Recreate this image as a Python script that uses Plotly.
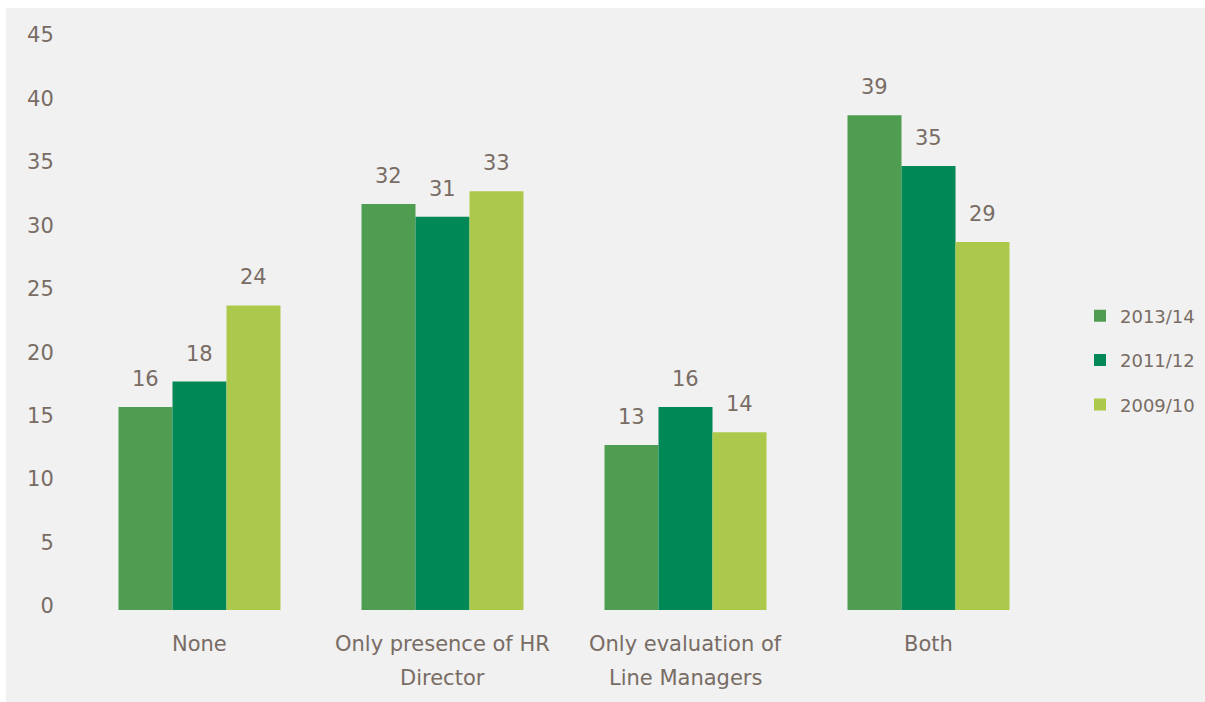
import plotly.graph_objects as go

categories = ["None", "Only presence of HR Director", "Only evaluation of Line Managers", "Both"]
category_lines = [["None"], ["Only presence of HR", "Director"], ["Only evaluation of", "Line Managers"], ["Both"]]
series_names = ["2013/14", "2011/12", "2009/10"]
values_2013 = [16, 32, 13, 39]
values_2011 = [18, 31, 16, 35]
values_2009 = [24, 33, 14, 29]
series_values = [values_2013, values_2011, values_2009]
colors = ["#4f9d50", "#008856", "#adc94b"]
y_ticks = [0, 5, 10, 15, 20, 25, 30, 35, 40, 45]

TXT = "#786c64"
FONT = "DejaVu Sans"
FS = 21

ML, MR, MT, MB = 78, 155, 39, 92
W, H = 1205, 702
plot_w = W - ML - MR
plot_h = H - MT - MB
bar_px = plot_w / len(categories) * (2 / 3) / 3

fig = go.Figure()
for i, (name, vals, col) in enumerate(zip(series_names, series_values, colors)):
    fig.add_trace(go.Bar(
        x=categories, y=vals, name=name, marker_color=col,
        marker_line_width=0, legendgroup=name,
    ))
    for c, v in zip(categories, vals):
        fig.add_annotation(
            x=c, y=v, xref="x", yref="y", text=str(v), showarrow=False,
            xshift=(i - 1) * bar_px, yshift=28,
            font=dict(family=FONT, size=FS, color=TXT),
        )

for c, lines in zip(categories, category_lines):
    for j, line in enumerate(lines):
        fig.add_annotation(
            x=c, y=0, xref="x", yref="y", text=line, showarrow=False,
            yshift=-(34 + 34 * j), font=dict(family=FONT, size=FS, color=TXT),
        )

# white strip at top/left outside the grey panel
fig.add_shape(type="rect", xref="paper", yref="paper",
              x0=-ML / plot_w, x1=(W - ML) / plot_w,
              y0=1 + (MT - 8) / plot_h, y1=1 + MT / plot_h,
              fillcolor="white", line_width=0, layer="below")
fig.add_shape(type="rect", xref="paper", yref="paper",
              x0=-ML / plot_w, x1=-(ML - 6) / plot_w,
              y0=-MB / plot_h, y1=1 + MT / plot_h,
              fillcolor="white", line_width=0, layer="below")

fig.update_layout(
    width=W, height=H,
    margin=dict(l=ML, r=MR, t=MT, b=MB, autoexpand=False),
    paper_bgcolor="#f1f1f1", plot_bgcolor="#f1f1f1",
    barmode="group", bargap=1 / 3, bargroupgap=0,
    font=dict(family=FONT, size=FS, color=TXT),
    showlegend=True,
    legend=dict(x=(1080 - ML) / plot_w, y=0.437, xanchor="left", yanchor="middle",
                font=dict(family=FONT, size=18, color=TXT),
                tracegroupgap=18, itemwidth=30, bgcolor="rgba(0,0,0,0)"),
    xaxis=dict(showticklabels=False, showgrid=False, zeroline=False, showline=False,
               ticks=""),
    yaxis=dict(range=[0, 45], tickvals=y_ticks, showgrid=False, zeroline=False,
               showline=False, ticks="outside", ticklen=19, tickcolor="rgba(0,0,0,0)",
               ticklabelshift=-4,
               tickfont=dict(family=FONT, size=FS, color=TXT)),
)

fig.write_html("out.html",
               post_script="document.body.style.margin='0';document.body.style.overflow='hidden';")
